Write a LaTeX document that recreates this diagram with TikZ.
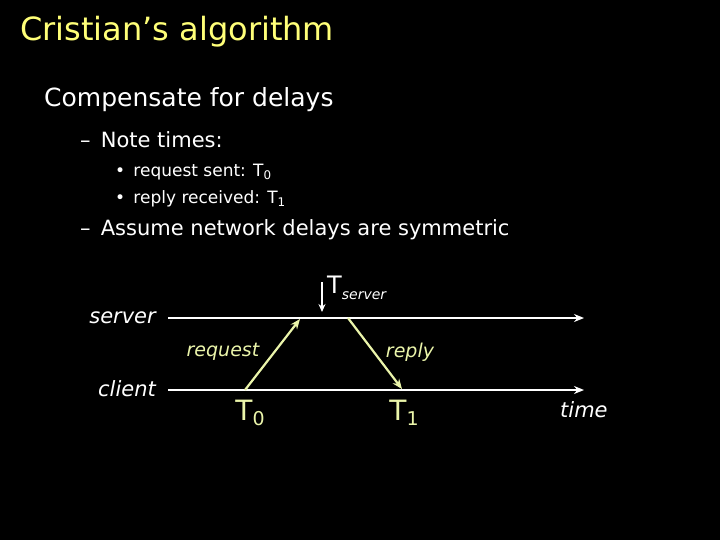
\documentclass[tikz,border=0pt]{standalone}
\usepackage{fontspec}
\setmainfont{DejaVu Sans}
\begin{document}
\begin{tikzpicture}[x=1pt,y=-1pt,
  txt/.style={text=white,inner sep=0pt},
  lab/.style={text=lbl,inner sep=0pt,font=\itshape\fontsize{19}{22}\selectfont},
  tl/.style={white,line width=2.2pt,-{Stealth[length=10pt,width=8pt]}},
  msg/.style={lbl,line width=2.2pt,-{Stealth[length=10pt,width=8pt]}}]
\definecolor{ttl}{RGB}{255,255,120}
\definecolor{lbl}{RGB}{235,245,170}
\usetikzlibrary{arrows.meta}
\fill[black] (0,0) rectangle (720,540);
\useasboundingbox (0,0) rectangle (720,540);
\node[anchor=west,text=ttl,inner sep=0pt,font=\fontsize{32}{36}\selectfont] (title) at (20,32) {Cristian’s algorithm};
\node[txt,anchor=west,font=\fontsize{25}{29}\selectfont] (b1) at (44,100) {Compensate for delays};
\node[txt,anchor=west,font=\fontsize{21}{25}\selectfont] (b2) at (80,140) {–\, Note times:};
\node[txt,anchor=west,font=\fontsize{17}{20}\selectfont] (b3) at (115,172) {•\, request sent: T\textsubscript{0}};
\node[txt,anchor=west,font=\fontsize{17}{20}\selectfont] (b4) at (115,199) {•\, reply received: T\textsubscript{1}};
\node[txt,anchor=west,font=\fontsize{21}{25}\selectfont] (b5) at (80,230) {–\, Assume network delays are symmetric};
\node[txt,anchor=east,font=\itshape\fontsize{21}{24}\selectfont] (srv) at (156,318) {server};
\node[txt,anchor=east,font=\itshape\fontsize{21}{24}\selectfont] (cli) at (156,389) {client};
\node[txt,anchor=west,font=\itshape\fontsize{21}{24}\selectfont] (time) at (560,410) {time};
\coordinate (s0) at (168,318); \coordinate (s1) at (584,318);
\coordinate (c0) at (168,390); \coordinate (c1) at (584,390);
\draw[tl] (s0) -- (s1);
\draw[tl] (c0) -- (c1);
\coordinate (rq0) at (245,390); \coordinate (rq1) at (300,319);
\coordinate (rp0) at (348,318); \coordinate (rp1) at (402,389);
\draw[msg] (rq0) -- (rq1);
\draw[msg] (rp0) -- (rp1);
\coordinate (d0) at (322,282); \coordinate (d1) at (322,312);
\draw[white,line width=1.6pt,-{Stealth[length=8pt,width=7pt]}] (d0) -- (d1);
\node[txt,anchor=west,font=\fontsize{24}{28}\selectfont] (ts) at (327,288) {T\raisebox{-6pt}{\itshape\fontsize{14}{16}\selectfont server}};
\node[lab] (req) at (223,352) {request};
\node[lab] (rep) at (410,352) {reply};
\node[lab,font=\fontsize{28}{32}\selectfont] (t0) at (250,413) {T\raisebox{-5pt}{\fontsize{19}{22}\selectfont 0}};
\node[lab,font=\fontsize{28}{32}\selectfont] (t1) at (404,413) {T\raisebox{-5pt}{\fontsize{19}{22}\selectfont 1}};
\end{tikzpicture}
\end{document}
